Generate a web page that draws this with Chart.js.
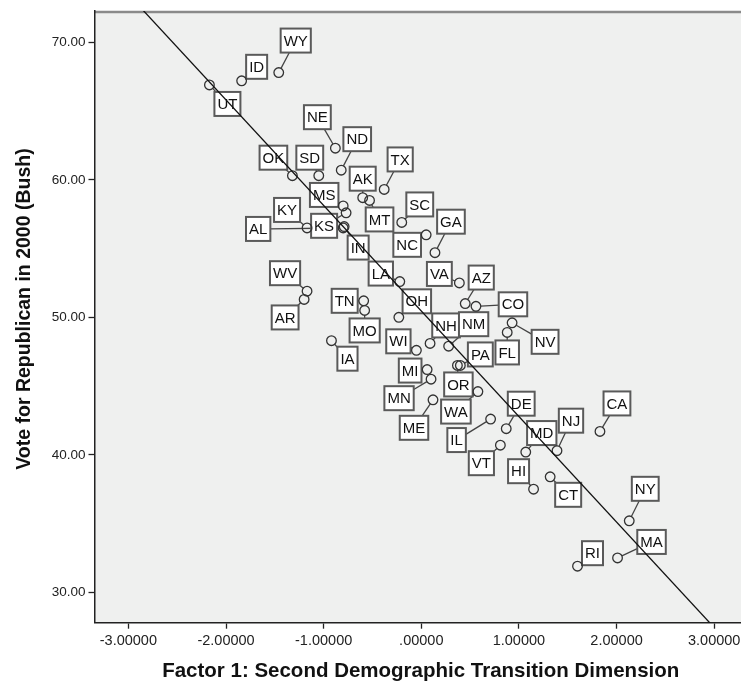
<!DOCTYPE html>
<html>
<head>
<meta charset="utf-8">
<script src="https://cdn.jsdelivr.net/npm/chart.js@4.4.1/dist/chart.umd.min.js"></script>
<style>
  html, body { margin: 0; padding: 0; background: #fff; overflow: hidden; }
  canvas { display: block; }
</style>
</head>
<body>
<!-- plot runs off the right edge, as in the original export -->
<canvas id="chart" width="753" height="689"></canvas>
<script>
// Data
var states = ['AL', 'AK', 'AZ', 'AR', 'CA', 'CO', 'CT', 'DE', 'FL', 'GA',
	'HI', 'ID', 'IL', 'IN', 'IA', 'KS', 'KY', 'LA', 'ME', 'MD',
	'MA', 'MI', 'MN', 'MS', 'MO', 'MT', 'NE', 'NV', 'NH', 'NJ',
	'NM', 'NY', 'NC', 'ND', 'OH', 'OK', 'OR', 'PA', 'RI', 'SC',
	'SD', 'TN', 'TX', 'UT', 'VT', 'VA', 'WA', 'WV', 'WI', 'WY'];
var factor1 = [-0.80, -0.60, 0.45, -1.20, 1.83, 0.56, 1.32, 0.87, 0.88, 0.14,
	1.15, -1.84, 0.71, -0.79, -0.92, -0.77, -1.17, -0.22, 0.12, 1.07,
	2.01, 0.06, 0.10, -0.80, -0.58, -0.53, -0.88, 0.93, 0.09, 1.39,
	0.28, 2.13, 0.05, -0.82, -0.23, -1.32, 0.37, 0.40, 1.60, -0.20,
	-1.05, -0.59, -0.38, -2.17, 0.81, 0.39, 0.58, -1.17, -0.05, -1.46];
var bushVote = [56.5, 58.7, 51.0, 51.3, 41.7, 50.8, 38.4, 41.9, 48.9, 54.7,
	37.5, 67.2, 42.6, 56.6, 48.3, 57.6, 56.5, 52.6, 44.0, 40.2,
	32.5, 46.2, 45.5, 58.1, 50.5, 58.5, 62.3, 49.6, 48.1, 40.3,
	47.9, 35.2, 56.0, 60.7, 50.0, 60.3, 46.5, 46.5, 31.9, 56.9,
	60.3, 51.2, 59.3, 66.9, 40.7, 52.5, 44.6, 51.9, 47.6, 67.8];
var xTicks = [-3, -2, -1, 0, 1, 2, 3];
var yTicks = [30, 40, 50, 60, 70];
var fitIntercept = 50.46;
var fitSlope = -7.675;

// axis extent
var xMin = -3.347, xMax = 3.335;
var yMin = 27.79, yMax = 72.27;

// label box position relative to its point, in pixels
var labelOffset = {
	AL: [-85, 1], AK: [0, -19], AZ: [16, -26], AR: [-19, 18], CA: [17, -28],
	CO: [37, -2], CT: [18, 18], DE: [15, -25], FL: [0, 20], GA: [16, -31],
	HI: [-15, -18], ID: [15, -14], IL: [-34, 21], IN: [14, 21], IA: [16, 18],
	KS: [-22, 13], KY: [-20, -18], LA: [-19, -8], ME: [-19, 28], MD: [16, -19],
	MA: [34, -16], MI: [-17, 1], MN: [-32, 19], MS: [-19, -11], MO: [0, 20],
	MT: [10, 19], NE: [-18, -31], NV: [33, 19], NH: [16, -18], NJ: [14, -30],
	NM: [25, -22], NY: [16, -32], NC: [-19, 10], ND: [16, -31], OH: [18, -16],
	OK: [-19, -18], OR: [1, 19], PA: [20, -11], RI: [15, -13], SC: [18, -18],
	SD: [-9, -18], TN: [-19, 0], TX: [16, -30], UT: [18, 19], VT: [-19, 18],
	VA: [-20, -9], WA: [-22, 20], WV: [-22, -18], WI: [-18, -9], WY: [17, -32]
};

var FONT = '"Liberation Sans", Arial, sans-serif';
var yTitle = 'Vote for Republican in 2000 (Bush)';

var points = states.map(function (s, i) {
	return { x: factor1[i], y: bushVote[i] };
});
var fitLine = [
	{ x: xMin, y: fitIntercept + fitSlope * xMin },
	{ x: xMax, y: fitIntercept + fitSlope * xMax }
];

// plot background, top frame and the y title
var frame = {
	id: 'frame',
	beforeDraw: function (chart) {
		var a = chart.chartArea, ctx = chart.ctx;
		ctx.save();
		ctx.fillStyle = '#eff0ef';
		ctx.fillRect(a.left, a.top, a.right - a.left, a.bottom - a.top);
		ctx.strokeStyle = '#8a8a8a';
		ctx.lineWidth = 2.5;
		ctx.beginPath();
		ctx.moveTo(a.left, a.top + 1);
		ctx.lineTo(a.right, a.top + 1);
		ctx.stroke();
		ctx.restore();
	},
	afterDraw: function (chart) {
		var ctx = chart.ctx;
		ctx.save();
		ctx.translate(24.5, 309);
		ctx.rotate(-Math.PI / 2);
		ctx.font = 'bold 19.5px ' + FONT;
		ctx.fillStyle = '#111';
		ctx.textAlign = 'center';
		ctx.textBaseline = 'middle';
		ctx.fillText(yTitle, 0, 0);
		ctx.restore();
	}
};

// state boxes with leader lines
var stateLabels = {
	id: 'stateLabels',
	beforeDatasetsDraw: function (chart) {
		var ctx = chart.ctx;
		var meta = chart.getDatasetMeta(0);
		var r = 4.8, h = 24;
		ctx.save();
		ctx.font = '15px ' + FONT;
		var boxes = meta.data.map(function (el, i) {
			var off = labelOffset[states[i]];
			return {
				px: el.x, py: el.y,
				cx: el.x + off[0], cy: el.y + off[1],
				w: ctx.measureText(states[i]).width + 6,
				text: states[i]
			};
		});
		// leader lines
		ctx.strokeStyle = '#444';
		ctx.lineWidth = 1.3;
		boxes.forEach(function (b) {
			var dx = b.cx - b.px, dy = b.cy - b.py;
			var len = Math.sqrt(dx * dx + dy * dy);
			if (len === 0) return;
			var s = Math.min(dx === 0 ? Infinity : (b.w / 2) / Math.abs(dx),
				dy === 0 ? Infinity : (h / 2) / Math.abs(dy));
			if (s >= 1) return;
			var ex = b.cx - s * dx, ey = b.cy - s * dy;
			var sx = b.px + r * dx / len, sy = b.py + r * dy / len;
			if ((ex - sx) * dx + (ey - sy) * dy <= 0) return;
			ctx.beginPath();
			ctx.moveTo(sx, sy);
			ctx.lineTo(ex, ey);
			ctx.stroke();
		});
		// boxes
		ctx.textAlign = 'center';
		ctx.textBaseline = 'middle';
		boxes.forEach(function (b) {
			ctx.fillStyle = '#fff';
			ctx.fillRect(b.cx - b.w / 2, b.cy - h / 2, b.w, h);
			ctx.strokeStyle = '#5a5a5a';
			ctx.lineWidth = 2;
			ctx.strokeRect(b.cx - b.w / 2, b.cy - h / 2, b.w, h);
			ctx.fillStyle = '#111';
			ctx.fillText(b.text, b.cx, b.cy + 1);
		});
		ctx.restore();
	}
};

var ctx = document.getElementById('chart').getContext('2d');
var myChart = new Chart(ctx, {
	type: 'scatter',
	data: {
		datasets: [
			{
				label: 'States',
				data: points,
				pointStyle: 'circle',
				pointRadius: 4.8,
				pointBorderWidth: 1.3,
				pointBorderColor: '#333',
				pointBackgroundColor: 'rgba(0,0,0,0)',
				order: 2
			},
			{
				type: 'line',
				label: 'Fit',
				data: fitLine,
				borderColor: '#111',
				borderWidth: 1.3,
				pointRadius: 0,
				fill: false,
				order: 1
			}
		]
	},
	options: {
		responsive: false,
		animation: false,
		devicePixelRatio: 1,
		layout: { padding: { top: 10, right: 0, left: 0, bottom: 0 } },
		plugins: {
			legend: { display: false },
			tooltip: { enabled: false }
		},
		scales: {
			x: {
				type: 'linear',
				min: xMin,
				max: xMax,
				afterBuildTicks: function (s) {
					s.ticks = xTicks.map(function (v) { return { value: v }; });
				},
				afterFit: function (s) { s.height = 66.3; },
				grid: { drawOnChartArea: false, drawTicks: true, tickLength: 6, color: '#222', tickWidth: 1.3 },
				border: { display: true, color: '#222', width: 1.5 },
				ticks: {
					color: '#222',
					padding: 4,
					maxRotation: 0,
					font: { family: FONT, size: 14.5 },
					callback: function (v) { return v === 0 ? '.00000' : v.toFixed(5); }
				},
				title: {
					display: true,
					text: 'Factor 1: Second Demographic Transition Dimension',
					color: '#111',
					font: { family: FONT, size: 20.5, weight: 'bold' },
					padding: { top: 0, bottom: 5 }
				}
			},
			y: {
				type: 'linear',
				min: yMin,
				max: yMax,
				afterBuildTicks: function (s) {
					s.ticks = yTicks.map(function (v) { return { value: v }; });
				},
				afterFit: function (s) { s.width = 94.5; },
				grid: { drawOnChartArea: false, drawTicks: true, tickLength: 6, color: '#222', tickWidth: 1.3 },
				border: { display: true, color: '#222', width: 1.5 },
				ticks: {
					color: '#222',
					padding: 3,
					font: { family: FONT, size: 13.5 },
					callback: function (v) { return v.toFixed(2); }
				}
			}
		}
	},
	plugins: [frame, stateLabels]
});
</script>
</body>
</html>
